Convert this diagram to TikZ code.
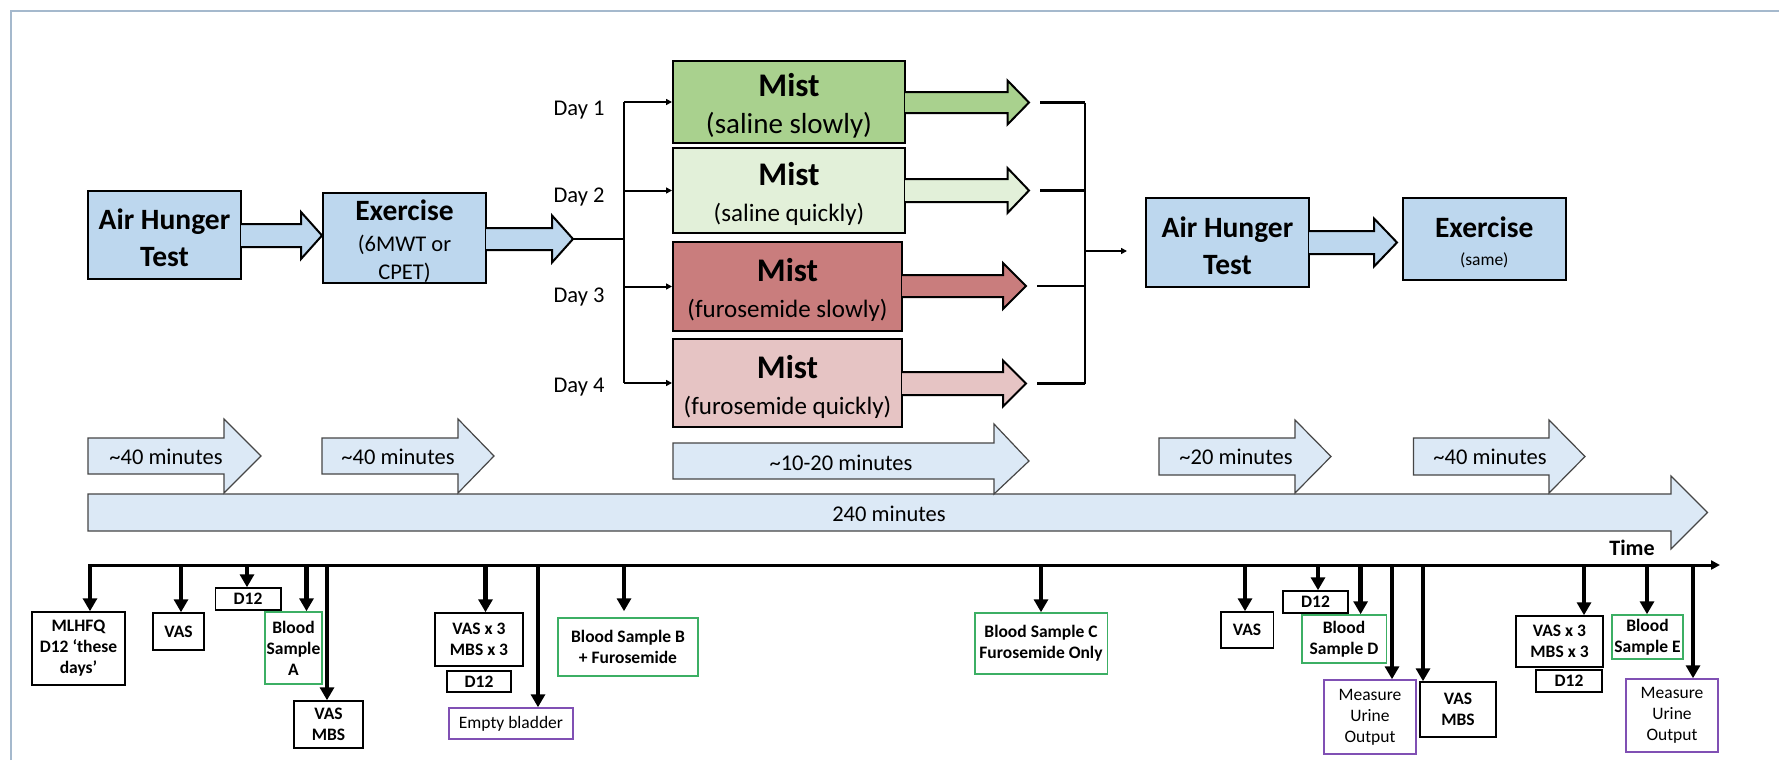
\documentclass[tikz,border=0pt]{standalone}
\usepackage{fontspec}
\setmainfont{Carlito}
\usetikzlibrary{arrows.meta,calc}
\definecolor{boxblue}{RGB}{189,215,238}
\definecolor{mistA}{RGB}{169,209,142}
\definecolor{mistB}{RGB}{226,240,217}
\definecolor{mistC}{RGB}{201,125,125}
\definecolor{mistD}{RGB}{230,196,196}
\definecolor{tlblue}{RGB}{220,233,246}
\definecolor{tlborder}{RGB}{70,70,70}
\definecolor{evgreen}{RGB}{60,175,100}
\definecolor{evpurple}{RGB}{128,80,180}
\definecolor{framec}{RGB}{165,185,205}
\newcommand\fBig{\fontsize{29.5}{37}\selectfont\bfseries}
\newcommand\fMist{\fontsize{33}{37}\selectfont\bfseries}
\newcommand\blkarrow[8]{%
  \path[fill=#1] (#2,{#3-#4}) -- (#5,{#3-#4}) -- (#5,{#3-#6}) -- (#7,#3) -- (#5,{#3+#6}) -- (#5,{#3+#4}) -- (#2,{#3+#4}) -- cycle;
  \draw[line width=2pt,line join=miter] (#2,{#3-#4}) -- (#5,{#3-#4}) -- (#5,{#3-#6}) -- (#7,#3) -- (#5,{#3+#6}) -- (#5,{#3+#4}) -- (#2,{#3+#4});
  \coordinate (#8) at (#7,#3);}
\newcommand\tlarrow[7]{%
  \draw[tlarr] (#1,#2) -- (#6,#2) -- (#6,#4) -- (#7,{(#2+#3)/2}) -- (#6,#5) -- (#6,#3) -- (#1,#3) -- cycle;}
\begin{document}
\begin{tikzpicture}[x=1pt,y=-1pt,
  bigbox/.style={draw=black,line width=2pt,inner sep=0pt,align=center},
  evbox/.style={draw=black,line width=1.5pt,inner sep=0pt,align=center,font=\fontsize{17.5}{21}\selectfont\bfseries},
  grnbox/.style={evbox,draw=evgreen},
  purbox/.style={evbox,draw=evpurple,font=\fontsize{17.5}{21}\selectfont},
  daylbl/.style={font=\fontsize{22.5}{26}\selectfont},
  tltext/.style={font=\fontsize{22.5}{26}\selectfont},
  tlarr/.style={draw=tlborder,line width=1.2pt,fill=tlblue,line join=miter},
  evarr/.style={line width=4.5pt,-{Triangle[width=14pt,length=13pt]}},
  thinln/.style={line width=2pt},
  branch/.style={line width=2pt,-{Triangle[width=6pt,length=6pt]}},
  mline/.style={line width=2.5pt},
  tline/.style={line width=3pt,-{Triangle[width=9pt,length=9pt]}}]
\useasboundingbox (0,0) rectangle (1779,760);
\fill[white] (0,0) rectangle (1779,760);
\draw[framec,line width=1.5pt] (11,760) -- (11,11) -- (1779,11);

% top flow boxes
\node[bigbox,fill=boxblue,minimum width=153pt,minimum height=88pt,font=\fBig] (aht1) at (164.5,235) {\rule{0pt}{27pt}Air Hunger\\Test};
\node[bigbox,fill=boxblue,minimum width=163pt,minimum height=90pt,font=\fontsize{22.5}{28}\selectfont] (ex1) at (404.5,238) {{\fBig\rule{0pt}{28pt}Exercise}\\[3pt](6MWT or\\CPET)};
\node[bigbox,fill=mistA,minimum width=232pt,minimum height=82pt,font=\fontsize{29}{37}\selectfont] (mist1) at (789,102) {{\fMist\rule{0pt}{31pt}Mist}\\(saline slowly)};
\node[bigbox,fill=mistB,minimum width=232pt,minimum height=85pt,font=\fontsize{25}{36}\selectfont] (mist2) at (789,190.5) {{\fMist\rule{0pt}{31pt}Mist}\\(saline quickly)};
\node[bigbox,fill=mistC,minimum width=229pt,minimum height=89pt,font=\fontsize{25}{36}\selectfont] (mist3) at (787.5,286.5) {{\fMist\rule{0pt}{31pt}Mist}\\(furosemide slowly)};
\node[bigbox,fill=mistD,minimum width=229pt,minimum height=88pt,font=\fontsize{25}{36}\selectfont] (mist4) at (787.5,383) {{\fMist\rule{0pt}{31pt}Mist}\\(furosemide quickly)};
\node[bigbox,fill=boxblue,minimum width=163pt,minimum height=89pt,font=\fBig] (aht2) at (1227.5,242.5) {\rule{0pt}{27pt}Air Hunger\\Test};
\node[bigbox,fill=boxblue,minimum width=163.5pt,minimum height=82pt,font=\fontsize{17.5}{28}\selectfont] (ex2) at (1484.25,239) {{\fBig\rule{0pt}{28pt}Exercise}\\(same)};

% block arrows
\blkarrow{boxblue}{241}{235.5}{11.5}{301}{23.5}{322}{aht1tip}
\blkarrow{boxblue}{486}{239}{11}{552}{23.5}{573}{ex1tip}
\blkarrow{mistA}{905}{102.5}{10.5}{1007.5}{22}{1029}{m1tip}
\blkarrow{mistB}{905}{190.5}{11.5}{1007.5}{22.5}{1029}{m2tip}
\blkarrow{mistC}{902}{286}{11}{1003}{23}{1026}{m3tip}
\blkarrow{mistD}{902}{383.5}{11.5}{1003}{23}{1026}{m4tip}
\blkarrow{boxblue}{1309}{242.5}{11.5}{1374}{24}{1397}{aht2tip}

% split
\coordinate (split) at (624,239);
\draw[thinln] (ex1tip) -- (split);
\draw[thinln] (split |- mist1.west) -- (split |- mist4.west);
\foreach \m in {mist1,mist2,mist3,mist4}
  \draw[branch] (split |- \m.west) -- (\m.west);
\node[daylbl] (day1) at (579,110) {Day 1};
\node[daylbl] (day2) at (579,197) {Day 2};
\node[daylbl] (day3) at (579,297) {Day 3};
\node[daylbl] (day4) at (579,387) {Day 4};

% merge
\coordinate (mrg) at (1085,251);
\foreach \t in {m1tip,m2tip,m3tip,m4tip}
  \draw[mline] ($(\t)+(11,0)$) -- (mrg |- \t);
\draw[mline] (mrg |- m1tip) -- (mrg |- m4tip);
\draw[branch] (mrg) -- ($(aht2.west |- mrg)+(-18,0)$);

% duration arrows
\tlarrow{88}{494}{531}{476}{549}{1671}{1707.5}
\tlarrow{88}{438}{474}{419}{493}{224}{261}
\tlarrow{322}{438}{474}{419}{493}{458}{494}
\tlarrow{673}{443}{479}{424}{494}{994}{1029}
\tlarrow{1159}{438}{475}{420}{493}{1295}{1331}
\tlarrow{1413.5}{438}{475}{420}{493}{1549}{1585}
\node[tltext] (d40a) at (166,457) {\textasciitilde40 minutes};
\node[tltext] (d40b) at (398,457) {\textasciitilde40 minutes};
\node[tltext] (d1020) at (841,463) {\textasciitilde10-20 minutes};
\node[tltext] (d20) at (1236,457) {\textasciitilde20 minutes};
\node[tltext] (d40c) at (1490,457) {\textasciitilde40 minutes};
\node[tltext] (d240) at (889,514) {240 minutes};

% timeline
\coordinate (tl0) at (88,565);
\coordinate (tl1) at (1720,565);
\draw[tline] (tl0) -- (tl1);
\node[font=\fontsize{22}{26}\selectfont\bfseries] (time) at (1632,548) {Time};

% event boxes
\node[evbox,minimum width=93pt,minimum height=73pt] (mlhfq) at (78.5,648.5) {MLHFQ\\D12 ‘these\\days’};
\node[evbox,minimum width=51pt,minimum height=37pt] (vas1) at (178.5,631.5) {VAS};
\node[evbox,minimum width=65.5pt,minimum height=22pt] (d12a) at (248,599) {D12};
\node[grnbox,minimum width=57pt,minimum height=72pt] (bsa) at (293.5,648) {Blood\\Sample\\A};
\node[evbox,minimum width=69pt,minimum height=47pt] (vm1) at (328.5,724.5) {VAS\\MBS};
\node[evbox,minimum width=88pt,minimum height=53pt] (v3a) at (479,639.5) {VAS x 3\\MBS x 3};
\node[evbox,minimum width=64pt,minimum height=21pt] (d12b) at (479,681.5) {D12};
\node[purbox,minimum width=124pt,minimum height=31pt] (eb) at (511,723.5) {Empty bladder};
\node[grnbox,minimum width=140pt,minimum height=58pt] (bsb) at (628,647) {Blood Sample B\\+ Furosemide};
\node[grnbox,minimum width=132.5pt,minimum height=61pt] (bsc) at (1041,643.5) {Blood Sample C\\Furosemide Only};
\node[evbox,minimum width=52.5pt,minimum height=36pt] (vas2) at (1247,630) {VAS};
\node[evbox,minimum width=65pt,minimum height=22pt] (d12c) at (1315.5,602) {D12};
\node[grnbox,minimum width=84.5pt,minimum height=48pt] (bsd) at (1344,639) {Blood\\Sample D};
\node[purbox,minimum width=92pt,minimum height=74pt] (mu1) at (1370,717) {Measure\\Urine\\Output};
\node[evbox,minimum width=76pt,minimum height=55pt] (vm2) at (1458,709.5) {VAS\\MBS};
\node[evbox,minimum width=87pt,minimum height=51pt] (v3b) at (1559.5,641.5) {VAS x 3\\MBS x 3};
\node[evbox,minimum width=66pt,minimum height=22pt] (d12d) at (1569,681) {D12};
\node[grnbox,minimum width=71pt,minimum height=44pt] (bse) at (1647.5,637) {Blood\\Sample E};
\node[purbox,minimum width=92pt,minimum height=73pt] (mu2) at (1672,715.5) {Measure\\Urine\\Output};

% event arrows
\foreach \x/\b in {90/mlhfq,181/vas1,247/d12a,306.5/bsa,327/vm1,485.5/v3a,538/eb,1041/bsc,1245/vas2,1318/d12c,1360.6/bsd,1392/mu1,1423/vm2,1584/v3b,1647/bse,1693/mu2}{
  \coordinate (t\b) at (\x,565);
  \draw[evarr] (t\b) -- (t\b |- \b.north);
}
\coordinate (tbsb) at (624,565);
\draw[evarr,shorten >=6pt] (tbsb) -- (tbsb |- bsb.north);
\end{tikzpicture}
\end{document}
